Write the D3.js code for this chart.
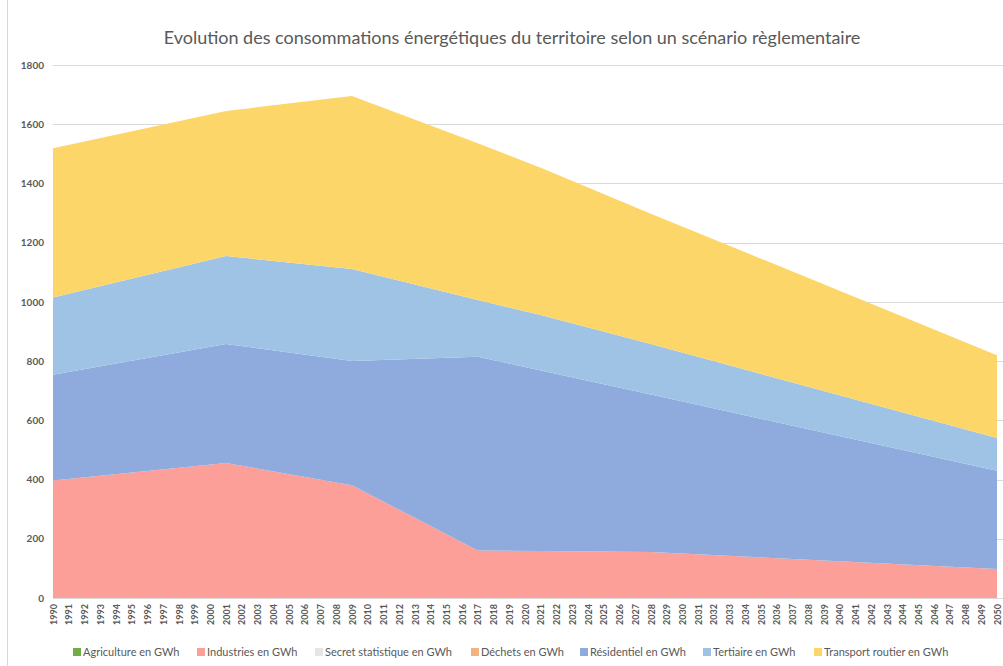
<!DOCTYPE html>
<html>
<head>
<meta charset="utf-8">
<script src="https://cdn.jsdelivr.net/npm/d3@7"></script>
<style>
  html, body { margin: 0; padding: 0; background: #ffffff; }
  svg { display: block; font-family: Lato, "Open Sans", sans-serif; }
</style>
</head>
<body>
<svg id="chart" width="1003" height="666"></svg>
<script>
// ---- Data ----
const titleText = "Evolution des consommations énergétiques du territoire selon un scénario règlementaire";
const years = [1990,1991,1992,1993,1994,1995,1996,1997,1998,1999,2000,2001,2002,2003,2004,2005,2006,2007,2008,2009,
  2010,2011,2012,2013,2014,2015,2016,2017,2018,2019,2020,2021,2022,2023,2024,2025,2026,2027,2028,2029,
  2030,2031,2032,2033,2034,2035,2036,2037,2038,2039,2040,2041,2042,2043,2044,2045,2046,2047,2048,2049,2050];
const keyYears     = [1990, 2001, 2009, 2017, 2021, 2028, 2050];
const agriculture  = [0, 0, 0, 0, 0, 0, 0];
const industries   = [397, 456, 381, 160, 159, 155, 98];
const secretStat   = [0, 0, 0, 0, 0, 0, 0];
const dechets      = [0, 0, 0, 0, 0, 0, 0];
const residentiel  = [357, 402, 419, 655, 609, 532, 332];
const tertiaire    = [261, 297, 311, 191, 188, 171, 110];
const transport    = [504, 490, 584, 530, 497, 440, 280];
const seriesNames  = ["Agriculture en GWh","Industries en GWh","Secret statistique en GWh","Déchets en GWh",
                      "Résidentiel en GWh","Tertiaire en GWh","Transport routier en GWh"];
const seriesColors = ["#70ad47","#fc9f99","#e7e6e6","#f4b183","#8faadc","#9fc3e5","#fdd669"];
const yTicks = [0,200,400,600,800,1000,1200,1400,1600,1800];

// ---- Build table ----
const seriesVals = [agriculture, industries, secretStat, dechets, residentiel, tertiaire, transport];
const table = keyYears.map((y, i) => {
  const row = { year: y };
  seriesNames.forEach((n, s) => row[n] = seriesVals[s][i]);
  return row;
});
const stacked = d3.stack().keys(seriesNames)(table);

const svg = d3.select("#chart");
const W = 1003, H = 666;

// chart frame
svg.append("line").attr("x1", 7.5).attr("x2", 7.5).attr("y1", 0).attr("y2", H)
  .attr("stroke", "#d9d9d9").attr("stroke-width", 1);

const x = d3.scalePoint().domain(years).range([53, 997]);
const y = d3.scaleLinear().domain([0, 1800]).range([598, 65]);

// gridlines
svg.append("g").selectAll("line").data(yTicks).join("line")
  .attr("x1", 53).attr("x2", W)
  .attr("y1", d => Math.round(y(d)) + 0.5).attr("y2", d => Math.round(y(d)) + 0.5)
  .attr("stroke", "#d9d9d9").attr("stroke-width", 1);

// areas
const area = d3.area()
  .x(d => x(d.data.year))
  .y0(d => y(d[0]))
  .y1(d => y(d[1]));
svg.append("g").selectAll("path").data(stacked).join("path")
  .attr("d", area)
  .attr("fill", (d, i) => seriesColors[i]);

// y axis
const yAxis = d3.axisLeft(y).tickValues(yTicks).tickFormat(d3.format("d")).tickSize(0).tickPadding(0);
const gy = svg.append("g").attr("transform", "translate(44,0)").call(yAxis);
gy.select(".domain").remove();
gy.selectAll("text").attr("fill", "#595959").attr("font-size", "10px").attr("font-weight", "bold")
  .attr("font-family", "Lato, sans-serif");

// x axis
const xAxis = d3.axisBottom(x).tickFormat(d3.format("d")).tickSize(0).tickPadding(0);
const gx = svg.append("g").attr("transform", "translate(0,598)").call(xAxis);
gx.select(".domain").attr("stroke", "#d9d9d9");
gx.selectAll("text")
  .attr("fill", "#595959").attr("font-size", "9px").attr("font-weight", "bold")
  .attr("font-family", "Lato, sans-serif")
  .attr("text-anchor", "end")
  .attr("dy", "0.35em")
  .attr("transform", "translate(0,6) rotate(-90)")
  .attr("y", 0).attr("x", 0);

// title
svg.append("text").attr("x", 512).attr("y", 44).attr("text-anchor", "middle")
  .attr("font-size", "18px").attr("fill", "#595959").attr("font-family", "Lato, sans-serif")
  .text(titleText);

// legend
const legendX = [73, 197, 315, 471, 580, 703, 814];
const lg = svg.append("g").selectAll("g").data(seriesNames).join("g")
  .attr("transform", (d, i) => `translate(${legendX[i]},652)`);
lg.append("rect").attr("x", 0).attr("y", -4).attr("width", 8).attr("height", 8)
  .attr("fill", (d, i) => seriesColors[i]);
lg.append("text").attr("x", 10).attr("y", 0).attr("dy", "0.35em")
  .attr("font-size", "11px").attr("fill", "#595959").attr("font-family", "Lato, sans-serif")
  .text(d => d);
</script>
</body>
</html>
